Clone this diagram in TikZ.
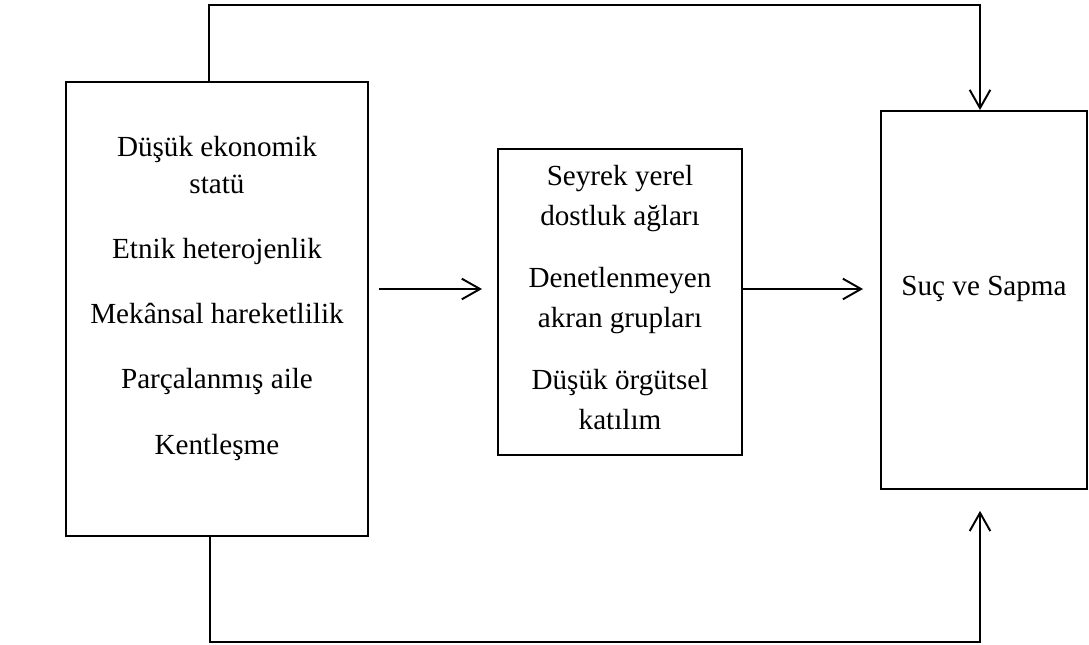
\documentclass[tikz,border=0pt]{standalone}
\usepackage{fontspec}
\setmainfont{Liberation Serif}
\usetikzlibrary{arrows.meta, positioning}
\tikzstyle{kutu} = [rectangle, draw, line width=0.8pt, inner sep=0pt]
\tikzstyle{yazi} = [align=center, inner sep=0pt, font=\fontsize{12}{15.2}\selectfont]
\tikzstyle{ok} = [-{Straight Barb[length=7.5pt, width=8.5pt]}, line width=0.8pt]

\begin{document}
\begin{tikzpicture}[x=0.4117pt, y=-0.4117pt]
  \useasboundingbox (0,0) rectangle (1089,645);

  % kutular
  \node[kutu, minimum width=302*0.4117pt, minimum height=454*0.4117pt] (lbox) at (217,309) {};
  \node[kutu, minimum width=244*0.4117pt, minimum height=306*0.4117pt] (mbox) at (620,302) {};
  \node[kutu, minimum width=206*0.4117pt, minimum height=378*0.4117pt] (rbox) at (984,300) {};

  % metinler
  \node[yazi, anchor=north] (ltext) at (217,136) {D\"u\c{s}\"uk ekonomik\\stat\"u\\[11.6pt]
    Etnik heterojenlik\\[11.6pt]Mek\^ansal hareketlilik\\[11.6pt]
    Par\c{c}alanm\i\c{s} aile\\[11.6pt]Kentle\c{s}me};
  \node[yazi, anchor=north, font=\fontsize{12}{16.5}\selectfont] (mtext) at (620,165)
    {Seyrek yerel\\dostluk a\u{g}lar\i\\[9pt]Denetlenmeyen\\akran gruplar\i\\[9pt]
    D\"u\c{s}\"uk \"org\"utsel\\kat\i l\i m};
  \node[yazi] (rtext) at (984,289) {Su\c{c} ve Sapma};

  % oklar
  \coordinate (orta) at (0,289);
  \draw[ok, shorten <=4.1pt, shorten >=6.2pt] (lbox.east |- orta) -- (mbox.west |- orta);
  \draw[ok, shorten >=7pt] (mbox.east |- orta) -- (rbox.west |- orta);

  \coordinate (ustL) at (209,5);
  \coordinate (ustR) at (980,5);
  \draw[ok] (lbox.north -| ustL) -- (ustL) -- (ustR) -- (rbox.north -| ustR);

  \coordinate (altL) at (210,642);
  \coordinate (altR) at (980,642);
  \draw[ok, shorten >=8.6pt] (lbox.south -| altL) -- (altL) -- (altR) -- (rbox.south -| altR);
\end{tikzpicture}
\end{document}
